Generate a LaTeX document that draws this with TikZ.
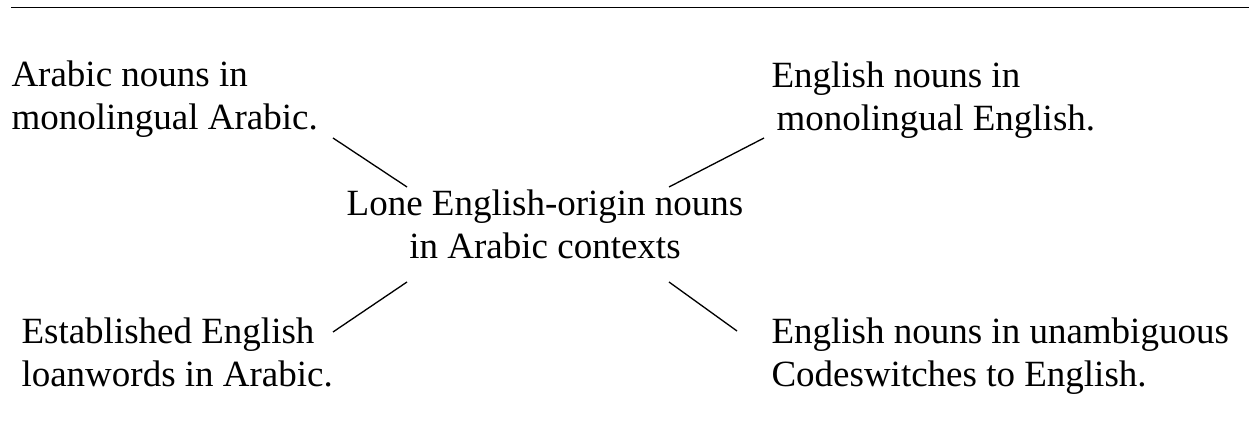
\documentclass[tikz,border=0pt]{standalone}
\usepackage{fontspec}
\setmainfont{Liberation Serif}
\begin{document}
\begin{tikzpicture}[x=0.3784pt,y=-0.3784pt,
  lbl/.style={inner sep=0pt, font=\fontsize{14}{16.6}\selectfont},
  conn/.style={line width=0.5pt}]
\useasboundingbox (0,0) rectangle (1249,434);
\coordinate (r1) at (11,7.5); \coordinate (r2) at (1249,7.5);
\draw[line width=0.75pt] (r1) -- (r2);
% anchor=base is the baseline of the last line
\node[lbl, anchor=base west, align=left] (tl) at (11,130) {Arabic nouns in\\monolingual Arabic.};
\node[lbl, anchor=base west, align=left] (tr) at (771,131) {English nouns in\\\hspace*{1.9pt}monolingual English.};
\node[lbl, anchor=base, align=center] (c) at (545,259) {Lone English-origin nouns\\in Arabic contexts};
\node[lbl, anchor=base west, align=left] (bl) at (21,387) {Established English\\loanwords in Arabic.};
\node[lbl, anchor=base west, align=left] (br) at (771,387) {English nouns in unambiguous\\Codeswitches to English.};
\coordinate (a1) at (333,138); \coordinate (a2) at (407,187);
\coordinate (b1) at (764,138); \coordinate (b2) at (669,187);
\coordinate (c1) at (333,332); \coordinate (c2) at (407,282);
\coordinate (d1) at (737,331); \coordinate (d2) at (669,282);
\draw[conn] (a1) -- (a2);
\draw[conn] (b1) -- (b2);
\draw[conn] (c1) -- (c2);
\draw[conn] (d1) -- (d2);
\end{tikzpicture}
\end{document}
